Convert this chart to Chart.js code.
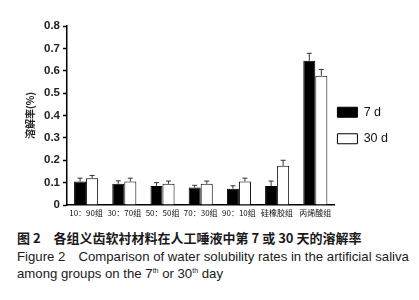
<!DOCTYPE html>
<html>
<head>
<meta charset="utf-8">
<script src="https://cdn.jsdelivr.net/npm/chart.js@4.4.1/dist/chart.umd.min.js"></script>
<style>
  body { margin: 0; background: #fff; width: 419px; height: 300px; overflow: hidden; }
  #wrap { position: absolute; left: 0; top: 0; width: 419px; height: 225px; }
  .cap { position: absolute; left: 17px; font-family: "Liberation Sans", Arial, sans-serif; font-size: 13.2px; color: #1a1a1a; white-space: nowrap; }
  #c1 { top: 228px; font-family: "Noto Sans CJK SC", sans-serif; font-weight: bold; font-size: 13px; }
  #c2 { top: 248px; }
  #c3 { top: 266px; }
  sup { font-size: 7px; vertical-align: 5px; }
</style>
</head>
<body>
<div id="wrap"><canvas id="chart" width="419" height="225"></canvas></div>
<div class="cap" id="c1">图 2　各组义齿软衬材料在人工唾液中第 7 或 30 天的溶解率</div>
<div class="cap" id="c2">Figure 2　Comparison of water solubility rates in the artificial saliva</div>
<div class="cap" id="c3">among groups on the 7<sup>th</sup> or 30<sup>th</sup> day</div>
<script>
// groups and values
var groups = ['10：90组', '30：70组', '50：50组', '70：30组', '90：10组', '硅橡胶组', '丙烯酸组'];
var day7 = [0.105, 0.095, 0.085, 0.078, 0.073, 0.085, 0.645];
var day7Err = [0.015, 0.013, 0.015, 0.010, 0.013, 0.022, 0.033];
var day30 = [0.120, 0.105, 0.095, 0.095, 0.105, 0.175, 0.578];
var day30Err = [0.012, 0.015, 0.012, 0.012, 0.015, 0.025, 0.028];
var yTicks = [0, 0.1, 0.2, 0.3, 0.4, 0.5, 0.6, 0.7, 0.8];

// draws the upward error bars (T shape) above each bar
var errorBars = {
    id: 'errorBars',
    afterDatasetsDraw: function (chart) {
        var ctx = chart.ctx;
        var y = chart.scales.y;
        var errs = [day7Err, day30Err];
        ctx.save();
        ctx.strokeStyle = '#333';
        ctx.lineWidth = 1;
        chart.data.datasets.forEach(function (ds, di) {
            var meta = chart.getDatasetMeta(di);
            meta.data.forEach(function (bar, i) {
                var top = y.getPixelForValue(ds.data[i]);
                var hi = y.getPixelForValue(ds.data[i] + errs[di][i]);
                ctx.beginPath();
                ctx.moveTo(bar.x, top);
                ctx.lineTo(bar.x, hi);
                ctx.moveTo(bar.x - 2.5, hi);
                ctx.lineTo(bar.x + 2.5, hi);
                ctx.stroke();
            });
        });
        ctx.restore();
    }
};

// legend sits right against the plot in the original, pull it in
var legendShift = {
    id: 'legendShift',
    afterLayout: function (chart) {
        chart.legend.left -= 11;
        chart.legend.right -= 11;
    }
};

var chart = new Chart(document.getElementById('chart'), {
    type: 'bar',
    data: {
        labels: groups,
        datasets: [{
            label: '7 d',
            data: day7,
            backgroundColor: '#000',
            borderColor: '#000',
            borderWidth: 1
        }, {
            label: '30 d',
            data: day30,
            backgroundColor: '#fff',
            borderColor: '#000',
            borderWidth: 1
        }]
    },
    options: {
        responsive: false,
        animation: false,
        devicePixelRatio: 1,
        layout: { padding: { left: 24, top: 26, right: 10, bottom: 0 } },
        datasets: { bar: { categoryPercentage: 0.63, barPercentage: 1 } },
        plugins: {
            legend: {
                position: 'right',
                labels: {
                    boxWidth: 20,
                    boxHeight: 10,
                    padding: 14,
                    color: '#111',
                    font: { family: 'Liberation Sans, Arial', size: 12.5 }
                }
            },
            tooltip: { enabled: false }
        },
        scales: {
            x: {
                grid: { display: false, drawTicks: false },
                border: { color: '#000', width: 1.5 },
                ticks: {
                    color: '#111',
                    padding: 3,
                    maxRotation: 0,
                    autoSkip: false,
                    font: { family: 'Noto Sans CJK SC', size: 8 }
                },
                afterFit: function (s) { s.height = 20; }
            },
            y: {
                min: 0,
                max: 0.8,
                afterBuildTicks: function (s) { s.ticks = yTicks.map(function (v) { return { value: v }; }); },
                grid: { display: true, drawOnChartArea: false, drawTicks: true, tickLength: 4, tickColor: '#000', tickWidth: 1.5 },
                border: { color: '#000', width: 1.5 },
                ticks: {
                    color: '#222',
                    padding: 3,
                    font: { family: 'Liberation Sans, Arial', size: 11.5, weight: 'bold' },
                    callback: function (v) { return v === 0 ? '0' : v.toFixed(1); }
                },
                title: {
                    display: true,
                    text: '溶解率(%)',
                    color: '#222',
                    padding: 0,
                    font: { family: 'Noto Sans CJK SC', size: 10, weight: 'bold' }
                },
                afterFit: function (s) { s.width = 43; }
            }
        }
    },
    plugins: [errorBars, legendShift]
});
</script>
</body>
</html>
